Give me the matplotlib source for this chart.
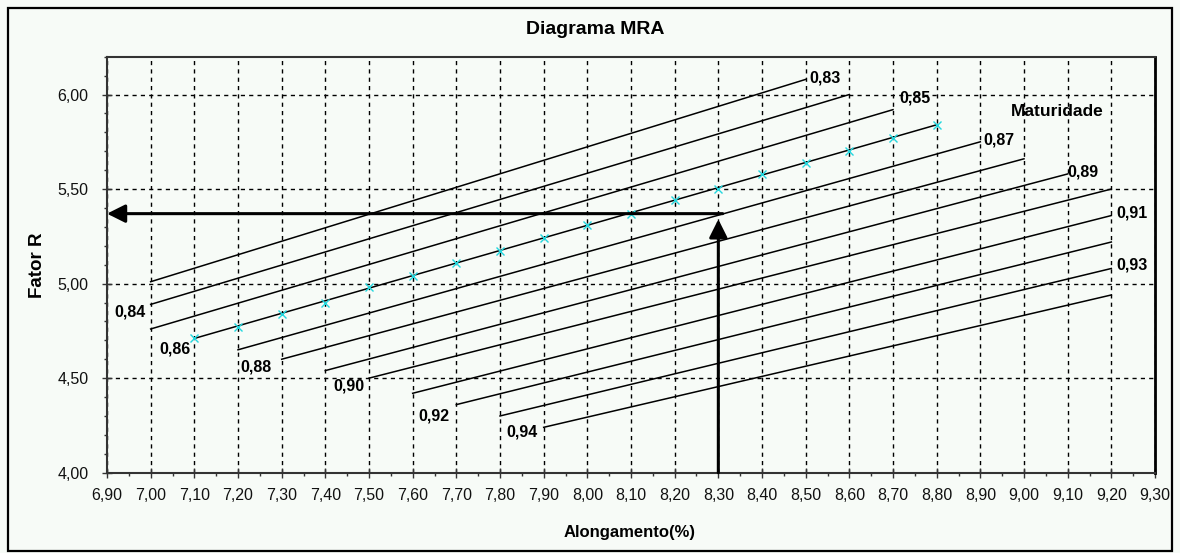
import matplotlib
matplotlib.use('Agg')
import matplotlib.pyplot as plt
from matplotlib.ticker import MultipleLocator, FuncFormatter
from matplotlib.patches import Rectangle

plt.rcParams['font.family'] = ['Liberation Sans', 'DejaVu Sans']

# ---------------- data ----------------
maturity_labels = ['0,83', '0,84', '0,85', '0,86', '0,87', '0,88',
                   '0,89', '0,90', '0,91', '0,92', '0,93', '0,94']
line_x_start = [7.00, 7.00, 7.00, 7.10, 7.20, 7.30, 7.40, 7.50, 7.60, 7.70, 7.80, 7.90]
line_y_start = [5.01, 4.89, 4.76, 4.71, 4.65, 4.60, 4.54, 4.50, 4.42, 4.36, 4.30, 4.24]
line_x_end = [8.50, 8.60, 8.70, 8.80, 8.90, 9.00, 9.10, 9.20, 9.20, 9.20, 9.20, 9.20]
line_y_end = [6.08, 6.00, 5.92, 5.84, 5.75, 5.66, 5.58, 5.50, 5.36, 5.22, 5.08, 4.94]

sample_x = [7.10, 7.20, 7.30, 7.40, 7.50, 7.60, 7.70, 7.80, 7.90,
            8.00, 8.10, 8.20, 8.30, 8.40, 8.50, 8.60, 8.70, 8.80]
sample_y = [4.71, 4.77, 4.84, 4.90, 4.98, 5.04, 5.11, 5.17, 5.24,
            5.31, 5.37, 5.44, 5.50, 5.58, 5.64, 5.70, 5.77, 5.84]

arrow_x = 8.30          # Alongamento lido
arrow_y = 5.37          # Fator R resultante
arrow_tip_y = 5.34

title = 'Diagrama MRA'
x_title = 'Alongamento(%)'
y_title = 'Fator R'
legend_title = 'Maturidade'

# ---------------- layout ----------------
W, H = 1180, 553
bg = '#F7FBF7'
fig = plt.figure(figsize=(W / 100, H / 100), dpi=100, facecolor=bg)
fig.patches.append(Rectangle((8 / W, 1 - 551 / H), (1172 - 8) / W, (551 - 8) / H,
                             transform=fig.transFigure, facecolor=bg,
                             edgecolor='black', linewidth=1.6, zorder=-5))

ax = fig.add_axes([107 / W, 1 - 472.7 / H, (1155 - 107) / W, (472.7 - 56.7) / H])
ax.set_facecolor(bg)
ax.set_xlim(6.90, 9.30)
ax.set_ylim(4.00, 6.20)

ax.xaxis.set_major_locator(MultipleLocator(0.10))
ax.xaxis.set_minor_locator(MultipleLocator(0.05))
ax.yaxis.set_major_locator(MultipleLocator(0.50))
ax.yaxis.set_minor_locator(MultipleLocator(0.10))
fmt = FuncFormatter(lambda v, p: f'{v:.2f}'.replace('.', ','))
ax.xaxis.set_major_formatter(fmt)
ax.yaxis.set_major_formatter(fmt)
ax.tick_params(which='major', direction='inout', length=6.5, width=1.0,
               color='#333333', labelsize=11.5, labelcolor='#111111')
ax.tick_params(which='minor', direction='out', length=2.5, width=1.0, color='#333333')
ax.tick_params(axis='x', which='major', pad=8)
ax.tick_params(axis='y', which='major', pad=10)

for s in ax.spines.values():
    s.set_color('#333333')
    s.set_linewidth(1.5)
ax.spines['right'].set_color('black')
ax.spines['right'].set_linewidth(2)

ax.grid(True, which='major', color='black', linewidth=1.0, linestyle=(0, (3, 3)))
ax.set_axisbelow(True)

# label offsets (pixels) : end-of-line labels for odd, start-of-line for even
label_offsets = [(4, 1), (-5, -8), (6, 12), (-4, -11), (3, 2), (-10, -8),
                 (0, 2), (-4, -8), (5, 3), (-7, -11), (5, 3), (-6, -5)]

for i, lab in enumerate(maturity_labels):
    ax.plot([line_x_start[i], line_x_end[i]], [line_y_start[i], line_y_end[i]],
            color='black', linewidth=1.1, zorder=3)
    dx, dy = label_offsets[i]
    if i % 2 == 0:
        xy = (line_x_end[i], line_y_end[i])
        ha = 'left'
    else:
        xy = (line_x_start[i], line_y_start[i])
        ha = 'right'
    ax.annotate(lab, xy=xy, xytext=(dx, dy), textcoords='offset pixels',
                ha=ha, va='center', fontsize=11.5, fontweight='bold', zorder=5)

ax.plot(sample_x, sample_y, linestyle='none', marker='x', markersize=6,
        markeredgewidth=1.0, color='#22D8DF', zorder=4)

ax.text(8.97, 5.91, legend_title, ha='left', va='center', fontsize=12.5,
        fontweight='bold')

# arrows
ax.annotate('', xy=(6.90, arrow_y), xytext=(arrow_x + 0.01, arrow_y),
            arrowprops=dict(arrowstyle='-|>,head_length=11,head_width=5.5',
                            mutation_scale=1, color='black', lw=2.2,
                            shrinkA=0, shrinkB=0), zorder=6)
ax.annotate('', xy=(arrow_x, arrow_tip_y), xytext=(arrow_x, 4.00),
            arrowprops=dict(arrowstyle='-|>,head_length=11,head_width=5.5',
                            mutation_scale=1, color='black', lw=2.2,
                            shrinkA=0, shrinkB=0), zorder=6)

fig.text(595 / W, 1 - 30 / H, title, ha='center', va='center',
         fontsize=14, fontweight='bold')
fig.text(629.5 / W, 1 - 532 / H, x_title, ha='center', va='center',
         fontsize=12, fontweight='bold')
fig.text(38 / W, 1 - 265 / H, y_title, ha='center', va='center',
         fontsize=13.5, fontweight='bold', rotation=90)

fig.savefig('out.png', dpi=100, facecolor=bg)
